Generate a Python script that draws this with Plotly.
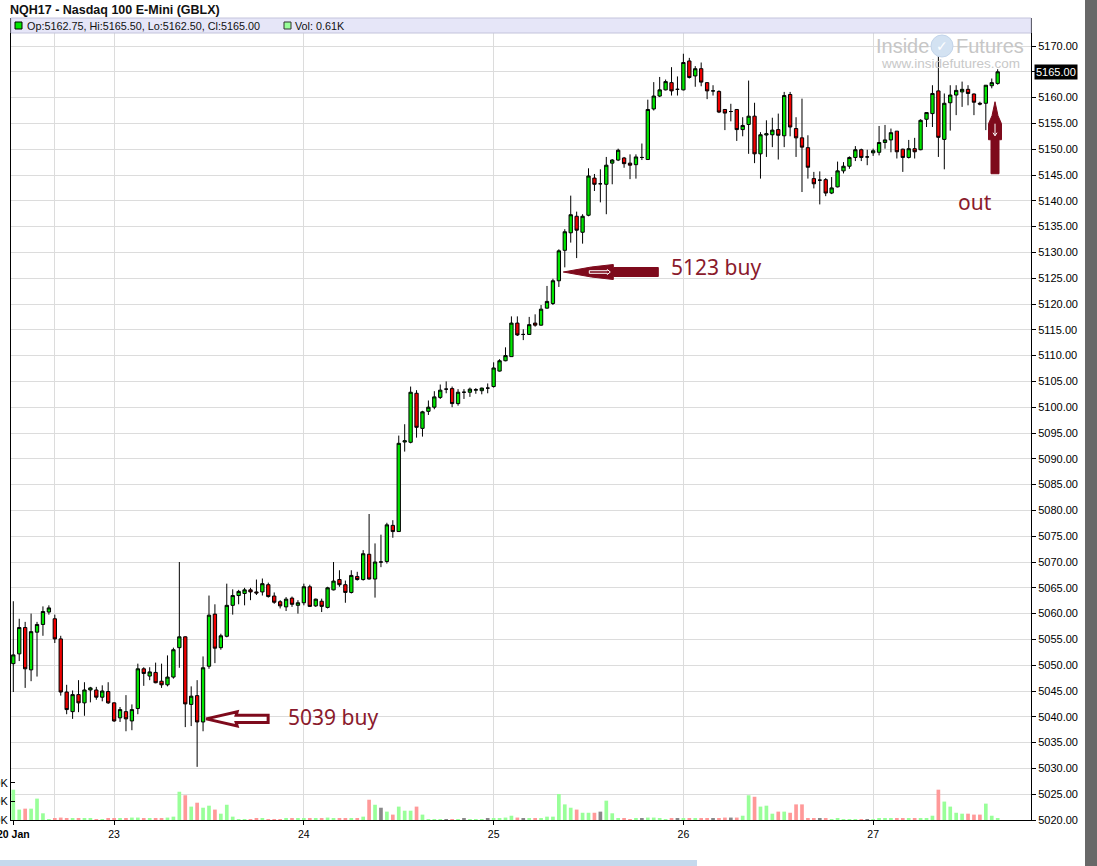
import plotly.graph_objects as go

# ---------------- data ----------------
opens = [5050.3, 5052.2, 5057.3, 5049.1, 5056.4, 5057.9, 5060.3, 5059.0, 5055.1, 5044.8,
         5041.0, 5044.3, 5042.7, 5045.2, 5045.2, 5043.8, 5044.9, 5042.7, 5039.8, 5041.0,
         5039.2, 5041.6, 5049.3, 5047.9, 5048.6, 5046.9, 5046.2, 5047.7, 5053.4, 5055.5,
         5042.4, 5044.1, 5039.0, 5049.8, 5059.9, 5053.4, 5055.6, 5061.6, 5063.5, 5063.9,
         5064.6, 5064.2, 5064.2, 5065.6, 5063.4, 5062.3, 5061.3, 5063.0, 5061.6, 5062.1,
         5065.2, 5061.5, 5062.4, 5061.2, 5064.6, 5066.6, 5065.6, 5064.1, 5067.2, 5066.6,
         5071.5, 5066.7, 5070.0, 5070.1, 5077.1, 5075.9, 5093.25, 5093.2, 5102.7, 5095.9,
         5099.2, 5100.0, 5101.9, 5103.5, 5103.6, 5100.7, 5102.9, 5102.9, 5103.3, 5103.2,
         5103.7, 5104.0, 5107.0, 5109.0, 5109.8, 5116.3, 5114.1, 5114.1, 5116.3, 5115.9,
         5119.2, 5120.1, 5124.5, 5130.4, 5133.8, 5137.0, 5133.9, 5137.2, 5144.4, 5143.3,
         5143.2, 5147.3, 5147.9, 5148.3, 5147.3, 5147.0, 5148.4, 5148.0, 5157.8, 5160.3,
         5161.5, 5162.9, 5161.6, 5161.5, 5167.1, 5164.2, 5165.6, 5162.9, 5161.3, 5161.2,
         5157.7, 5157.3, 5157.7, 5153.8, 5154.8, 5156.4, 5149.1, 5152.75, 5152.8, 5153.8,
         5152.6, 5160.6, 5154.0, 5152.2, 5150.3, 5144.3, 5144.0, 5144.1, 5141.5, 5142.7,
         5145.8, 5146.7, 5148.4, 5149.9, 5148.5, 5149.3, 5149.4, 5151.3, 5151.8, 5153.5,
         5150.0, 5148.4, 5150.1, 5149.9, 5155.8, 5156.9, 5161.3, 5151.9, 5159.0, 5160.5,
         5161.1, 5161.6, 5160.7, 5158.9, 5158.9, 5162.3, 5162.75]
highs = [5062.4, 5059.0, 5058.4, 5060.0, 5058.4, 5061.4, 5061.6, 5059.8, 5055.7, 5046.2,
         5045.1, 5047.1, 5046.7, 5045.8, 5045.8, 5046.1, 5046.7, 5042.8, 5041.9, 5044.2,
         5042.4, 5050.3, 5049.6, 5049.6, 5050.5, 5050.3, 5051.9, 5053.4, 5070.0, 5055.6,
         5045.9, 5047.1, 5051.7, 5063.5, 5061.8, 5056.1, 5065.8, 5064.7, 5064.6, 5065.0,
         5065.0, 5066.6, 5066.8, 5066.0, 5064.1, 5062.6, 5063.2, 5063.3, 5062.6, 5065.8,
         5065.6, 5062.9, 5062.9, 5065.2, 5070.0, 5068.4, 5066.4, 5068.4, 5068.1, 5072.3,
         5079.3, 5073.6, 5075.3, 5077.6, 5078.1, 5094.5, 5096.7, 5104.0, 5103.3, 5099.3,
         5101.3, 5103.1, 5104.4, 5105.0, 5104.0, 5103.5, 5103.5, 5103.8, 5103.7, 5103.8,
         5104.6, 5108.7, 5109.3, 5111.6, 5117.6, 5117.6, 5115.1, 5117.5, 5118.0, 5119.8,
         5123.5, 5124.9, 5130.6, 5134.5, 5141.0, 5137.9, 5137.4, 5146.3, 5145.2, 5146.1,
         5148.5, 5148.1, 5150.1, 5148.5, 5149.0, 5149.0, 5151.1, 5159.6, 5163.0, 5164.0,
         5163.5, 5165.9, 5164.1, 5168.5, 5167.7, 5166.1, 5166.8, 5163.0, 5162.4, 5161.4,
         5157.7, 5158.8, 5157.7, 5156.2, 5163.3, 5159.0, 5153.3, 5155.6, 5156.1, 5156.9,
         5161.1, 5161.1, 5156.2, 5159.8, 5152.7, 5145.6, 5145.7, 5144.4, 5144.6, 5147.6,
         5147.5, 5148.6, 5150.6, 5150.1, 5149.9, 5150.1, 5154.5, 5154.7, 5154.0, 5153.5,
         5150.1, 5151.8, 5152.2, 5155.8, 5157.2, 5162.4, 5169.0, 5160.8, 5162.4, 5162.4,
         5163.1, 5162.4, 5160.8, 5159.2, 5162.4, 5163.7, 5165.5]
lows = [5044.8, 5050.8, 5045.6, 5046.9, 5047.8, 5055.7, 5059.8, 5054.3, 5044.1, 5040.5,
        5039.6, 5040.9, 5040.2, 5042.8, 5043.3, 5043.0, 5042.5, 5039.0, 5039.0, 5037.2,
        5037.4, 5040.5, 5046.0, 5047.1, 5046.5, 5045.6, 5045.9, 5047.4, 5049.5, 5038.0,
        5038.2, 5030.3, 5037.2, 5049.3, 5050.4, 5053.0, 5055.4, 5059.8, 5061.8, 5061.6,
        5062.6, 5063.6, 5063.5, 5063.1, 5061.9, 5061.0, 5060.5, 5061.3, 5060.0, 5061.6,
        5061.3, 5061.3, 5060.3, 5061.0, 5064.5, 5065.2, 5062.1, 5063.9, 5066.4, 5066.4,
        5066.6, 5063.1, 5069.0, 5069.7, 5074.7, 5075.9, 5091.4, 5093.0, 5094.1, 5094.3,
        5098.5, 5099.6, 5101.6, 5102.7, 5100.0, 5100.3, 5101.6, 5102.0, 5102.6, 5102.5,
        5102.7, 5103.8, 5106.9, 5108.9, 5109.8, 5113.8, 5113.0, 5114.0, 5115.6, 5115.8,
        5119.1, 5119.8, 5123.3, 5127.1, 5131.9, 5128.9, 5131.7, 5137.0, 5141.9, 5139.7,
        5137.4, 5143.2, 5147.7, 5146.4, 5144.2, 5144.3, 5147.9, 5148.0, 5157.5, 5160.1,
        5161.4, 5160.4, 5160.4, 5161.4, 5163.7, 5162.1, 5162.2, 5159.7, 5160.4, 5157.0,
        5153.7, 5155.4, 5151.6, 5152.5, 5149.1, 5147.3, 5144.3, 5148.5, 5150.4, 5148.0,
        5150.4, 5152.5, 5148.5, 5141.7, 5144.3, 5142.4, 5139.3, 5140.9, 5141.3, 5142.6,
        5145.3, 5146.2, 5147.7, 5147.7, 5146.9, 5148.7, 5148.8, 5150.1, 5149.4, 5148.2,
        5145.6, 5148.2, 5148.2, 5149.8, 5154.3, 5154.3, 5148.5, 5146.1, 5153.6, 5156.6,
        5158.2, 5158.5, 5156.6, 5158.5, 5153.7, 5161.8, 5162.5]
closes = [5052.0, 5057.3, 5049.3, 5056.5, 5057.9, 5060.4, 5061.1, 5055.1, 5044.8, 5041.4,
          5044.3, 5042.7, 5045.2, 5045.6, 5043.8, 5045.0, 5042.7, 5039.2, 5041.4, 5039.6,
          5041.4, 5049.3, 5048.4, 5048.7, 5046.6, 5046.2, 5047.7, 5053.0, 5055.5, 5042.5,
          5044.0, 5039.0, 5049.5, 5059.7, 5053.3, 5055.7, 5061.6, 5063.5, 5064.3, 5064.6,
          5064.2, 5064.0, 5065.8, 5063.3, 5062.2, 5061.5, 5062.8, 5061.8, 5062.1, 5065.2,
          5061.4, 5062.8, 5061.4, 5065.0, 5066.3, 5065.6, 5064.1, 5067.4, 5066.6, 5071.6,
          5066.7, 5070.0, 5070.0, 5077.2, 5075.9, 5093.0, 5093.5, 5102.9, 5096.1, 5099.1,
          5100.0, 5102.0, 5103.3, 5103.5, 5100.7, 5102.9, 5102.9, 5103.5, 5103.4, 5103.7,
          5103.7, 5107.6, 5109.0, 5110.0, 5116.3, 5114.0, 5114.1, 5116.0, 5115.9, 5119.0,
          5120.5, 5124.5, 5130.3, 5134.0, 5137.3, 5134.3, 5137.0, 5144.8, 5143.2, 5143.3,
          5146.9, 5147.9, 5149.8, 5147.2, 5146.9, 5148.5, 5148.4, 5157.7, 5160.3, 5161.5,
          5163.1, 5161.3, 5161.6, 5166.8, 5163.9, 5165.6, 5163.0, 5161.3, 5161.3, 5157.2,
          5157.0, 5157.3, 5153.8, 5154.6, 5156.4, 5149.1, 5152.8, 5153.0, 5153.7, 5152.7,
          5160.4, 5154.3, 5152.2, 5150.4, 5146.5, 5143.3, 5144.0, 5141.5, 5142.5, 5145.8,
          5146.7, 5148.4, 5149.9, 5148.4, 5148.5, 5149.7, 5151.3, 5151.8, 5153.2, 5149.5,
          5148.4, 5150.1, 5149.5, 5155.6, 5157.1, 5160.8, 5152.3, 5158.9, 5160.5, 5161.4,
          5161.6, 5160.8, 5159.1, 5158.75, 5162.4, 5162.9, 5165.0]
volumes_k = [16.3, 5.6, 6.1, 6.1, 11.5, 3.6, 0.3, 0.7, 1.3, 0.7,
             0.7, 0.7, 0.7, 0.7, 0.2, 0.2, 0.7, 0.7, 0.7, 0.7,
             1.3, 1.3, 0.7, 0.7, 0.7, 0.7, 1.3, 1.8, 15.2, 13.3,
             7.2, 9.3, 6.6, 7.7, 5.6, 3.4, 8.2, 1.8, 0.3, 0.2,
             0.2, 0.7, 0.7, 0.4, 0.4, 0.4, 0.7, 0.7, 0.7, 0.7,
             0.7, 0.7, 0.7, 1.3, 0.7, 0.7, 0.7, 0.7, 0.7, 1.8,
             10.9, 8.2, 6.6, 4.5, 2.9, 7.2, 5.0, 5.0, 7.2, 2.9,
             0.5, 0.5, 0.5, 0.5, 0.5, 0.3, 0.7, 0.4, 0.4, 0.4,
             0.7, 0.7, 0.7, 1.3, 2.3, 1.3, 0.7, 0.7, 0.7, 0.7,
             1.8, 1.8, 14.0, 8.4, 6.6, 5.6, 3.9, 3.9, 3.9, 4.5,
             10.4, 3.6, 0.7, 0.7, 0.5, 0.7, 0.7, 1.3, 1.3, 0.7,
             0.5, 0.7, 0.7, 0.7, 0.7, 0.7, 0.7, 0.7, 0.7, 0.7,
             1.3, 1.3, 1.3, 2.3, 13.3, 12.5, 7.2, 7.7, 3.4, 4.5,
             4.5, 3.9, 8.4, 8.4, 0.7, 0.7, 0.7, 0.7, 0.3, 0.7,
             0.1, 0.1, 0.1, 0.1, 0.1, 0.1, 0.7, 0.7, 0.7, 0.7,
             0.7, 0.7, 0.7, 0.7, 0.7, 2.3, 16.3, 9.9, 7.2, 3.9,
             3.4, 3.4, 2.9, 2.9, 8.8, 2.3, 0.61]
bar_index = list(range(len(opens)))

date_tick_idx = [0, 17, 49, 81, 113, 145]
date_tick_text = ["<b>20 Jan</b>", "23", "24", "25", "26", "27"]
grid_idx = [7, 17, 49, 81, 113, 145]
price_ticks = list(range(5020, 5171, 5))
vol_ticks = [0, 10, 20]
vol_tick_text = ["0K", "10K", "20K"]

title_text = "NQH17 - Nasdaq 100 E-Mini (GBLX)"
buy1_idx, buy1_price = 32, 5039
buy2_idx, buy2_price = 92, 5123
out_idx = 166

# ---------------- styling / layout helpers ----------------
W, H = 1097, 866
L, R, T, B = 11, 66, 18, 46
PW, PH = W - L - R, H - T - B
PX_PER_BAR = 5.93
X_FIRST = 13.3
x_range = [-(X_FIRST - L) / PX_PER_BAR, (W - R - X_FIRST) / PX_PER_BAR]
y_range = [5020, 5020 + PH / 5.16]
vol_range = [0, PH / 1.86]

def pxx(px):
    return (px - L) / PW

def pxy(py):
    return (H - B - py) / PH

UP, DN = "#00e600", "#f00000"
VUP, VDN, VEQ = "#99ff99", "#ff9999", "#888888"
MAROON, MAROON_T = "#7e0a1c", "#8a1a2c"
GRID = "#dcdcdc"
FONT = "Liberation Sans"

vol_colors = [VUP if c > o else (VDN if c < o else VEQ) for o, c in zip(opens, closes)]
# the current price is shown in its own black box, so its plain tick label is left blank
price_tick_text = ["" if abs(v - closes[-1]) < 1e-9 else "%.2f" % v for v in price_ticks]

fig = go.Figure()
fig.add_trace(go.Candlestick(
    x=bar_index, open=opens, high=highs, low=lows, close=closes,
    increasing=dict(line=dict(color="black", width=1), fillcolor=UP),
    decreasing=dict(line=dict(color="black", width=1), fillcolor=DN),
    whiskerwidth=0, showlegend=False, hoverinfo="skip"))
fig.add_trace(go.Bar(
    x=bar_index, y=volumes_k, xaxis="x2", yaxis="y2", width=0.62,
    marker=dict(color=vol_colors, line=dict(width=0)), showlegend=False, hoverinfo="skip"))

shapes = []
# header band
shapes.append(dict(type="rect", xref="paper", yref="paper", x0=0, x1=1, y0=pxy(33), y1=1,
                   fillcolor="#e6e6f8", line=dict(color="#c4c4dc", width=1), layer="above"))
# legend squares
shapes.append(dict(type="rect", xref="paper", yref="paper", x0=pxx(15), x1=pxx(22), y0=pxy(29), y1=pxy(22),
                   fillcolor=UP, line=dict(color="black", width=1), layer="above"))
shapes.append(dict(type="rect", xref="paper", yref="paper", x0=pxx(284), x1=pxx(291), y0=pxy(29), y1=pxy(22),
                   fillcolor=VUP, line=dict(color="#333333", width=1), layer="above"))
# right grey strip and bottom scrollbar strip
shapes.append(dict(type="rect", xref="paper", yref="paper", x0=pxx(1085), x1=pxx(1098), y0=pxy(867), y1=pxy(-1),
                   fillcolor="#686868", line=dict(width=0), layer="above"))
shapes.append(dict(type="rect", xref="paper", yref="paper", x0=pxx(-1), x1=pxx(697), y0=pxy(867), y1=pxy(860),
                   fillcolor="#c5d9ed", line=dict(width=0), layer="above"))
# watermark globe
shapes.append(dict(type="circle", xref="paper", yref="paper", xsizemode="pixel", ysizemode="pixel",
                   xanchor=pxx(942), yanchor=pxy(46), x0=-11, x1=11, y0=-11, y1=11,
                   fillcolor="#d3e2f2", line=dict(color="#c2d4ea", width=1), layer="above"))

# arrow 1: hollow, pointing left at the 5039 buy
shapes.append(dict(type="path", xref="x", yref="y", xsizemode="pixel", ysizemode="pixel",
                   xanchor=buy1_idx + 0.35, yanchor=buy1_price + 0.6,
                   path="M 1,0 L 32,7 L 31,3.6 L 63,3.6 L 63,-3.6 L 31,-3.6 L 32,-7 Z",
                   fillcolor="white", line=dict(color=MAROON, width=3), layer="above"))
# arrow 2: filled, pointing left at the 5123 buy
shapes.append(dict(type="path", xref="x", yref="y", xsizemode="pixel", ysizemode="pixel",
                   xanchor=buy2_idx + 0.75, yanchor=buy2_price + 3.2,
                   path="M 0,0 L 28,5 L 50,7.5 L 50,4.5 L 95,4.5 L 95,-4.5 L 50,-4.5 L 50,-7.5 L 28,-5 Z",
                   fillcolor=MAROON, line=dict(color=MAROON, width=1), layer="above"))
shapes.append(dict(type="path", xref="x", yref="y", xsizemode="pixel", ysizemode="pixel",
                   xanchor=buy2_idx + 0.75, yanchor=buy2_price + 3.2,
                   path="M 26,1.3 L 44,1.3 L 44,2.5 L 47,0 L 44,-2.5 L 44,-1.3 L 26,-1.3 Z",
                   fillcolor=MAROON, line=dict(color="white", width=1), layer="above"))
# arrow 3: pointing up at the exit
shapes.append(dict(type="path", xref="x", yref="y", xsizemode="pixel", ysizemode="pixel",
                   xanchor=out_idx - 0.45, yanchor=closes[out_idx] - 5.8,
                   path="M 0,0 L 3,-14 L 6.5,-22 L 6.5,-38 L 4,-38 L 4,-72 L -4,-72 L -4,-38 L -6.5,-38 L -6.5,-22 L -3,-14 Z",
                   fillcolor=MAROON, line=dict(color=MAROON, width=1), layer="above"))
shapes.append(dict(type="path", xref="x", yref="y", xsizemode="pixel", ysizemode="pixel",
                   xanchor=out_idx - 0.45, yanchor=closes[out_idx] - 5.8,
                   path="M 0,-22 L 0,-34 M -2,-31 L 0,-34 L 2,-31",
                   line=dict(color="white", width=1), layer="above"))

annotations = []
hdr = "Op:%.2f, Hi:%.2f, Lo:%.2f, Cl:%.2f" % (opens[-1], highs[-1], lows[-1], closes[-1])
annotations.append(dict(xref="paper", yref="paper", x=pxx(25), y=pxy(26), xanchor="left", yanchor="middle",
                        text=hdr, showarrow=False, font=dict(family=FONT, size=10.8, color="#111111")))
annotations.append(dict(xref="paper", yref="paper", x=pxx(293), y=pxy(26), xanchor="left", yanchor="middle",
                        text="Vol: %.2fK" % volumes_k[-1], showarrow=False,
                        font=dict(family=FONT, size=10.8, color="#111111")))
# current price marker on the right axis
annotations.append(dict(xref="paper", yref="y", x=1, y=closes[-1], xanchor="left", yanchor="middle",
                        xshift=3, text="%.2f" % closes[-1], showarrow=False, bgcolor="black", borderpad=1,
                        font=dict(family=FONT, size=11, color="white")))
# watermark
annotations.append(dict(xref="paper", yref="paper", x=pxx(931), y=pxy(46), xanchor="right", yanchor="middle",
                        text="Inside", showarrow=False, font=dict(family=FONT, size=20, color="#c6c6c6")))
annotations.append(dict(xref="paper", yref="paper", x=pxx(954), y=pxy(46), xanchor="left", yanchor="middle",
                        text="Futures", showarrow=False, font=dict(family=FONT, size=20, color="#c6c6c6")))
annotations.append(dict(xref="paper", yref="paper", x=pxx(942), y=pxy(46), xanchor="center", yanchor="middle",
                        text="\u2713", showarrow=False, font=dict(family="DejaVu Sans", size=14, color="white")))
annotations.append(dict(xref="paper", yref="paper", x=pxx(950), y=pxy(64), xanchor="center", yanchor="middle",
                        text="www.insidefutures.com", showarrow=False,
                        font=dict(family=FONT, size=13.5, color="#c8c8c8")))
# trade notes
note_font = dict(family="Noto Sans", size=21, color=MAROON_T)
annotations.append(dict(xref="x", yref="y", x=53.9, y=5040.0, xanchor="center", yanchor="middle",
                        text="%d buy" % buy1_price, showarrow=False, font=note_font))
annotations.append(dict(xref="x", yref="y", x=118.5, y=5127.2, xanchor="center", yanchor="middle",
                        text="%d buy" % buy2_price, showarrow=False, font=note_font))
annotations.append(dict(xref="x", yref="y", x=162.2, y=5139.8, xanchor="center", yanchor="middle",
                        text="out", showarrow=False, font=note_font))

fig.update_layout(
    template="none",
    width=W, height=H,
    margin=dict(l=L, r=R, t=T, b=B, pad=0),
    paper_bgcolor="white", plot_bgcolor="white",
    font=dict(family=FONT, size=11, color="black"),
    showlegend=False,
    boxgap=0.2,
    bargap=0.35,
    title=dict(text="<b>%s</b>" % title_text, xref="container", yref="container",
               x=10 / W, y=1 - 10 / H, xanchor="left", yanchor="middle",
               font=dict(family=FONT, size=12.5, color="#111111")),
    xaxis=dict(range=x_range, tickmode="array", tickvals=date_tick_idx, ticktext=date_tick_text,
               showgrid=False, zeroline=False, showline=True, linecolor="black", linewidth=1,
               ticks="outside", ticklen=4, tickcolor="black", tickfont=dict(family=FONT, size=10.5),
               ticklabeloverflow="allow",
               rangeslider=dict(visible=False), automargin=False, fixedrange=True),
    xaxis2=dict(range=x_range, overlaying="x", anchor="y2", tickmode="array", tickvals=grid_idx,
                showgrid=True, gridcolor=GRID, gridwidth=1, showticklabels=False, ticks="",
                showline=False, zeroline=False, automargin=False, fixedrange=True),
    yaxis=dict(range=y_range, side="right", tickmode="array", tickvals=price_ticks,
               ticktext=price_tick_text,
               showgrid=True, gridcolor=GRID, gridwidth=1, zeroline=False, showline=True,
               linecolor="black", linewidth=1, ticks="outside", ticklen=4, tickcolor="black",
               tickfont=dict(family=FONT, size=11), ticklabeloverflow="allow",
               automargin=False, fixedrange=True),
    yaxis2=dict(range=vol_range, overlaying="y", side="left", anchor="x2", tickmode="array",
                tickvals=vol_ticks, ticktext=vol_tick_text, showgrid=False, zeroline=False,
                showline=True, linecolor="black", linewidth=1, ticks="inside", ticklen=4,
                tickcolor="black", tickfont=dict(family=FONT, size=11), ticklabeloverflow="allow",
                automargin=False, fixedrange=True),
    shapes=shapes,
    annotations=annotations,
)

fig.write_html("out.html", config={"displayModeBar": False},
               post_script="document.body.style.margin='0';document.body.style.padding='0';")
